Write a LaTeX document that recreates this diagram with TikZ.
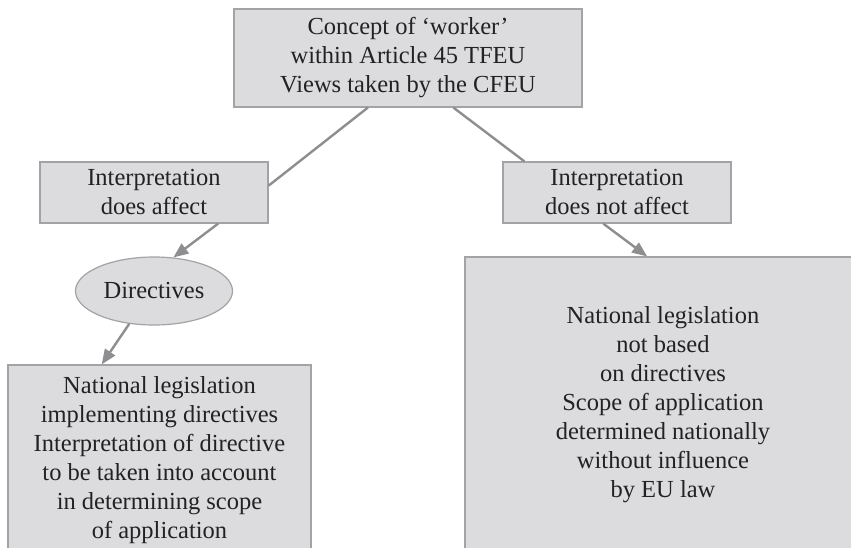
\documentclass[tikz,border=0pt]{standalone}
\usepackage{fontspec}
\setmainfont{Liberation Serif}
\usetikzlibrary{calc,shapes.geometric,arrows.meta}
\definecolor{boxfill}{HTML}{DCDCDE}
\definecolor{boxline}{HTML}{A3A3A5}
\definecolor{linkgray}{HTML}{8E8E90}
\definecolor{txt}{HTML}{222222}
\tikzset{
	box/.style={draw=boxline, line width=1.2pt, fill=boxfill, text=txt, align=center, inner sep=0pt,
		font=\fontsize{24.5}{29}\selectfont},
	oval/.style={box, ellipse},
	link/.style={draw=linkgray, line width=2.4pt},
	arrow/.style={link, -{Triangle[length=15pt,width=12pt]}}
}

\begin{document}
\begin{tikzpicture}[x=1pt, y=-1pt]
		%%%%% START %%%%%
		\useasboundingbox (0, 0) rectangle (851, 548);
		\clip (0, 0) rectangle (851, 548);
		
		\node[box, minimum width=348pt, minimum height=98pt] (concept) at (408, 58)
			{Concept of ‘worker’\\within Article 45 TFEU\\Views taken by the CFEU};
		
		\node[box, minimum width=228pt, minimum height=61pt] (affect) at (154, 192.5)
			{Interpretation\\does affect};
		\node[box, minimum width=228pt, minimum height=61pt] (notaffect) at (617, 192.5)
			{Interpretation\\does not affect};
		
		\node[oval, minimum width=157pt, minimum height=68pt] (directives) at (154, 291) {Directives};
		
		\node[box, minimum width=303pt, minimum height=190pt] (implement) at (159.5, 460)
			{National legislation\\implementing directives\\Interpretation of directive\\to be taken into account\\in determining scope\\of application};
		\node[box, minimum width=396pt, minimum height=296pt] (national) at (663, 405)
			{National legislation\\not based\\on directives\\Scope of application\\determined nationally\\without influence\\by EU law};
		
		\draw[link] ($(concept.south west)!0.385!(concept.south east)$) -- ($(affect.north east)!0.39!(affect.south east)$);
		\draw[link] ($(concept.south west)!0.63!(concept.south east)$) -- ($(notaffect.north west)!0.096!(notaffect.north east)$);
		
		\draw[arrow] ($(affect.south west)!0.78!(affect.south east)$) -- (directives.60);
		\draw[arrow] (directives.233) -- ($(implement.north west)!0.31!(implement.north east)$);
		\draw[arrow] ($(notaffect.south west)!0.44!(notaffect.south east)$) -- ($(national.north west)!0.46!(national.north east)$);
		
		%%%%% END %%%%%
	\end{tikzpicture}
\end{document}
